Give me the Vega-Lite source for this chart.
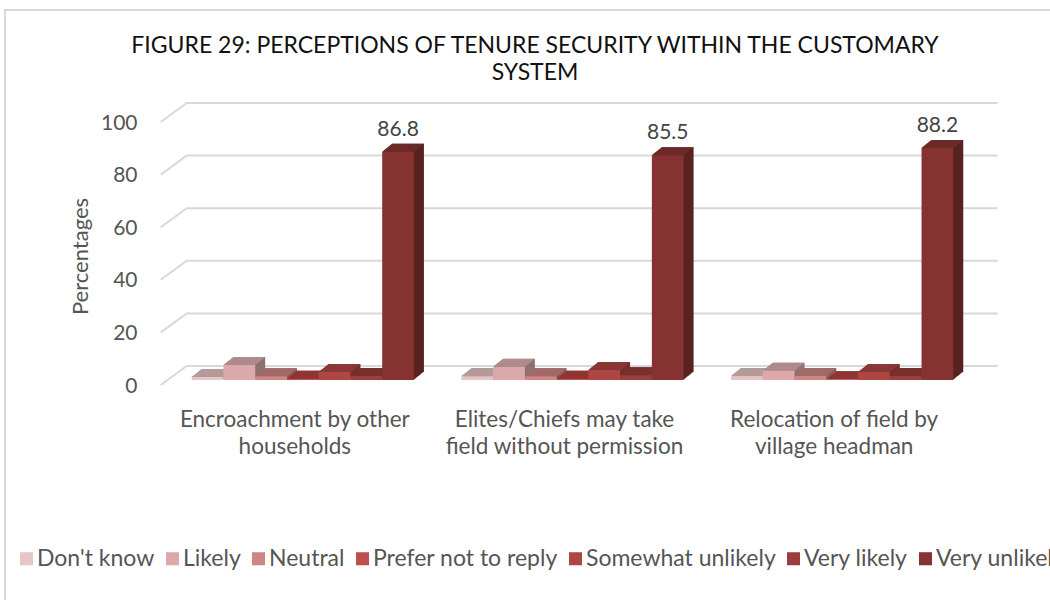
{
"$schema":"https://vega.github.io/schema/vega-lite/v6.json",
"autosize":"none","padding":{"left":5,"top":10,"right":0,"bottom":0},
"width":1060,"height":600,
"background":"white",
"view":{"stroke":"#d9d9d9","strokeWidth":2,"fill":"white"},
"title":{"text":["FIGURE 29: PERCEPTIONS OF TENURE SECURITY WITHIN THE CUSTOMARY","SYSTEM"],"font":"Lato","fontSize":23,"fontWeight":"normal","color":"#111111","anchor":"start","frame":"group","dx":530,"dy":74.5,"align":"center","lineHeight":27,"offset":0},
"datasets":{
"rows":[
{"item":"Encroachment by other\nhouseholds","response":"Don't know","pct":1.1},
{"item":"Encroachment by other\nhouseholds","response":"Likely","pct":5.7},
{"item":"Encroachment by other\nhouseholds","response":"Neutral","pct":1.4},
{"item":"Encroachment by other\nhouseholds","response":"Prefer not to reply","pct":0.5},
{"item":"Encroachment by other\nhouseholds","response":"Somewhat unlikely","pct":3},
{"item":"Encroachment by other\nhouseholds","response":"Very likely","pct":1.5},
{"item":"Encroachment by other\nhouseholds","response":"Very unlikely","pct":86.8},
{"item":"Elites/Chiefs may take\nfield without permission","response":"Don't know","pct":1.4},
{"item":"Elites/Chiefs may take\nfield without permission","response":"Likely","pct":5},
{"item":"Elites/Chiefs may take\nfield without permission","response":"Neutral","pct":1.4},
{"item":"Elites/Chiefs may take\nfield without permission","response":"Prefer not to reply","pct":0.5},
{"item":"Elites/Chiefs may take\nfield without permission","response":"Somewhat unlikely","pct":3.8},
{"item":"Elites/Chiefs may take\nfield without permission","response":"Very likely","pct":1.8},
{"item":"Elites/Chiefs may take\nfield without permission","response":"Very unlikely","pct":85.5},
{"item":"Relocation of field by\nvillage headman","response":"Don't know","pct":1.5},
{"item":"Relocation of field by\nvillage headman","response":"Likely","pct":3.5},
{"item":"Relocation of field by\nvillage headman","response":"Neutral","pct":1.5},
{"item":"Relocation of field by\nvillage headman","response":"Prefer not to reply","pct":0.3},
{"item":"Relocation of field by\nvillage headman","response":"Somewhat unlikely","pct":3},
{"item":"Relocation of field by\nvillage headman","response":"Very likely","pct":1.5},
{"item":"Relocation of field by\nvillage headman","response":"Very unlikely","pct":88.2}
],
"grid":[{"g":0},{"g":20},{"g":40},{"g":60},{"g":80},{"g":100}]
},
"encoding":{
"x":{"field":"item","type":"nominal","sort":null,"title":null,
"scale":{"range":[163,972],"paddingInner":0.176,"paddingOuter":0.088},
"axis":{"orient":"bottom","offset":-220,"domain":false,"ticks":false,"labelAngle":0,"labelOffset":-8,"labelPadding":18,"labelFont":"Lato","labelFontSize":22.5,"labelColor":"#555555","labelLimit":300,"labelLineHeight":27,"labelAlign":"center","labelExpr":"split(datum.label,'\\n')"}},
"y":{"field":"pct","type":"quantitative","title":"Percentages",
"scale":{"domain":[0,100],"range":[370,107],"nice":false},
"axis":{"orient":"left","offset":-132,"domain":false,"ticks":false,"grid":false,"values":[0,20,40,60,80,100],"labelPadding":0,"labelOffset":6,"labelFont":"Lato","labelFontSize":21,"labelColor":"#555555","titleFont":"Lato","titleFontSize":22,"titleFontWeight":"normal","titleColor":"#555555","titlePadding":8,"titleY":246}},
"xOffset":{"field":"response","type":"nominal","sort":null,"scale":{"paddingInner":0,"paddingOuter":0}}
},
"layer":[
{"data":{"name":"grid"},
"mark":{"type":"point","shape":"M-31 5L-5 -14L806 -14","size":4,"filled":false,"stroke":"#d9d9d9","strokeWidth":2,"opacity":1},
"encoding":{"x":{"datum":"Encroachment by other\nhouseholds"},"y":{"field":"g","type":"quantitative"},"xOffset":{"value":0}}},
{"data":{"name":"rows"},
"encoding":{"color":{"field":"response","type":"nominal","sort":null,"legend":null,"scale":{"range":["#9a8282","#8f7070","#8a5a58","#7a2e2c","#752e2c","#662825","#572220"]}}},
"layer":[
{"mark":{"type":"bar","yOffset":-0.8},"encoding":{"xOffset":{"field":"response","type":"nominal","sort":null,"scale":{"range":[1,223.2]}}}},
{"mark":{"type":"bar","yOffset":-1.6},"encoding":{"xOffset":{"field":"response","type":"nominal","sort":null,"scale":{"range":[2,224.2]}}}},
{"mark":{"type":"bar","yOffset":-2.4},"encoding":{"xOffset":{"field":"response","type":"nominal","sort":null,"scale":{"range":[3,225.2]}}}},
{"mark":{"type":"bar","yOffset":-3.2},"encoding":{"xOffset":{"field":"response","type":"nominal","sort":null,"scale":{"range":[4,226.2]}}}},
{"mark":{"type":"bar","yOffset":-4},"encoding":{"xOffset":{"field":"response","type":"nominal","sort":null,"scale":{"range":[5,227.2]}}}},
{"mark":{"type":"bar","yOffset":-4.8},"encoding":{"xOffset":{"field":"response","type":"nominal","sort":null,"scale":{"range":[6,228.2]}}}},
{"mark":{"type":"bar","yOffset":-5.6},"encoding":{"xOffset":{"field":"response","type":"nominal","sort":null,"scale":{"range":[7,229.2]}}}},
{"mark":{"type":"bar","yOffset":-6.4},"encoding":{"xOffset":{"field":"response","type":"nominal","sort":null,"scale":{"range":[8,230.2]}}}},
{"mark":{"type":"bar","yOffset":-7.2},"encoding":{"xOffset":{"field":"response","type":"nominal","sort":null,"scale":{"range":[9,231.2]}}}},
{"mark":{"type":"bar","yOffset":-8},"encoding":{"xOffset":{"field":"response","type":"nominal","sort":null,"scale":{"range":[10,232.2]}}}}
],
"resolve":{"scale":{"xOffset":"independent"}}},
{"data":{"name":"rows"},
"mark":{"type":"point","shape":"M-16 0L16 0L26 -8L-6 -8Z","size":4,"filled":true,"opacity":1},
"encoding":{"color":{"field":"response","type":"nominal","sort":null,"legend":null,"scale":{"range":["#b59a9a","#b08a8a","#a06a68","#8e3533","#8a3836","#79302d","#6b2a28"]}}}},
{"data":{"name":"rows"},
"mark":{"type":"bar"},
"encoding":{"color":{"field":"response","type":"nominal","sort":null,"title":null,
"scale":{"range":["#e6c5c6","#dba9a9","#cf8582","#be4f4f","#ae4644","#9c3d3d","#863231"]},
"legend":{"orient":"none","legendX":10,"legendY":537,"direction":"horizontal","columns":7,"symbolType":"square","symbolSize":170,"symbolStrokeWidth":0,"labelFont":"Lato","labelFontSize":23,"labelColor":"#555555","labelLimit":300,"columnPadding":6,"padding":0,"labelOffset":-1}}}},
{"data":{"name":"rows"},
"transform":[{"filter":"datum.response === 'Very unlikely'"}],
"mark":{"type":"text","font":"Lato","fontSize":21,"color":"#444444","dx":0,"dy":-22},
"encoding":{"text":{"field":"pct","type":"quantitative","format":".1f"}}}
],
"resolve":{"scale":{"color":"independent"}}
}
